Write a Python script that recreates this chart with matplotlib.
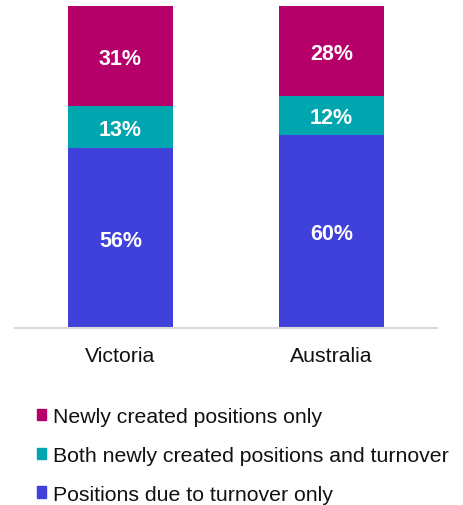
import matplotlib
matplotlib.use("Agg")
import matplotlib.pyplot as plt
from matplotlib.patches import Patch

plt.rcParams['font.family'] = ['Liberation Sans', 'DejaVu Sans']

categories = ["Victoria", "Australia"]
turnover_only = [56, 60]
both = [13, 12]
newly_only = [31, 28]
series_names = ["Newly created positions only",
                "Both newly created positions and turnover",
                "Positions due to turnover only"]
colors = {"new": "#B5006A", "both": "#00A6AF", "turn": "#4040DA"}

W, H = 464, 506
fig = plt.figure(figsize=(W/100, H/100), dpi=100)
ax = fig.add_axes([15/W, (H-329)/H, (437-15)/W, (329-7)/H])

x = list(range(len(categories)))
bw = 0.5
b1 = ax.bar(x, turnover_only, bw, color=colors["turn"])
b2 = ax.bar(x, both, bw, bottom=turnover_only, color=colors["both"])
bottom3 = [a + b for a, b in zip(turnover_only, both)]
b3 = ax.bar(x, newly_only, bw, bottom=bottom3, color=colors["new"])

for bars, vals, bots in ((b1, turnover_only, [0]*len(x)), (b2, both, turnover_only), (b3, newly_only, bottom3)):
    for xi, v, b in zip(x, vals, bots):
        ax.text(xi, b + v/2, f"{v}%", ha="center", va="center_baseline", color="white",
                fontsize=15.5, fontweight="bold")

ax.set_xlim(-0.5, 1.5)
ax.set_ylim(0, 100)
ax.set_xticks(x)
ax.set_xticklabels(categories, fontsize=15.3, color="#111111")
ax.tick_params(axis="x", length=0, pad=13)
ax.set_yticks([])
for s in ("left", "right", "top"):
    ax.spines[s].set_visible(False)
ax.spines["bottom"].set_color("#D9D9D9")
ax.spines["bottom"].set_linewidth(1.5)

handles = [Patch(color=colors["new"]), Patch(color=colors["both"]), Patch(color=colors["turn"])]
fig.legend(handles, series_names, loc="upper left",
           bbox_to_anchor=(37/W, (H-408)/H), frameon=False, fontsize=15.3,
           handlelength=0.43, handleheight=0.43, handletextpad=0.33,
           labelspacing=0.93, borderpad=0, borderaxespad=0, labelcolor="#111111")

fig.savefig("out.png", dpi=100)
